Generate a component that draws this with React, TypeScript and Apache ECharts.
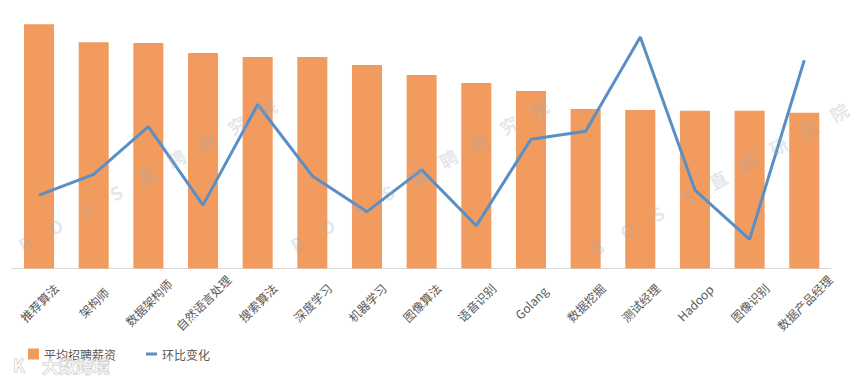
import React, { useEffect, useRef } from "react";
import * as echarts from "echarts";

const categories = [
  "推荐算法", "架构师", "数据架构师", "自然语言处理", "搜索算法", "深度学习", "机器学习",
  "图像算法", "语音识别", "Golang", "数据挖掘", "测试经理", "Hadoop", "图像识别", "数据产品经理",
];
// 平均招聘薪资 (k)
const salary = [27.2, 25.2, 25.1, 24.0, 23.55, 23.55, 22.65, 21.55, 20.65, 19.75, 17.75, 17.65, 17.55, 17.55, 17.35];
// 环比变化 (%)
const change = [7.3, 9.35, 14.1, 6.3, 16.3, 9.2, 5.65, 9.8, 4.25, 12.85, 13.65, 23.0, 7.8, 2.9, 20.7];

const seriesNames = ["平均招聘薪资", "环比变化"];
const watermarkChars = ["B", "O", "S", "S", "直", "聘", "研", "究", "院"];
const logoText = "大数跨境";

const FONT = "'Noto Sans CJK SC', 'Noto Sans', sans-serif";

export default function App() {
  const ref = useRef<HTMLDivElement>(null);
  useEffect(() => {
    if (!ref.current) return;
    const chart = echarts.init(ref.current, undefined, { renderer: "svg" });

    const wmStarts = [
      [25, 243],
      [297, 243],
      [597, 247],
    ];
    const step = [30.25, -16.9];
    const angle = Math.atan2(-step[1], step[0]);
    const wm: any[] = [];
    wmStarts.forEach(([sx, sy]) => {
      watermarkChars.forEach((ch, i) => {
        wm.push({
          type: "text",
          x: sx + step[0] * i,
          y: sy + step[1] * i,
          rotation: angle,
          z: 100,
          silent: true,
          style: {
            text: ch,
            fill: "rgba(160,170,185,0.3)",
            font: `bold 18px ${FONT}`,
            align: "center",
            verticalAlign: "middle",
          },
        });
      });
    });
    wm.push({
      type: "text",
      x: 42,
      y: 365,
      z: 100,
      silent: true,
      style: {
        text: logoText,
        fill: "rgba(255,255,255,0.55)",
        stroke: "rgba(185,185,185,0.75)",
        lineWidth: 1,
        font: `bold 17px ${FONT}`,
        verticalAlign: "middle",
      },
    });
    wm.push({
      type: "text",
      x: 13,
      y: 364,
      z: 100,
      silent: true,
      style: {
        text: "K",
        fill: "rgba(255,255,255,0.55)",
        stroke: "rgba(185,185,185,0.75)",
        lineWidth: 1,
        font: `bold 17px ${FONT}`,
        verticalAlign: "middle",
      },
    });

    chart.setOption({
      animation: false,
      backgroundColor: "#ffffff",
      grid: { left: 11.7, right: 28.4, top: 17, bottom: 112.5 },
      legend: {
        left: 23,
        top: 343,
        itemWidth: 11,
        itemHeight: 11,
        itemGap: 30,
        textStyle: { color: "#595959", fontSize: 12, fontFamily: FONT },
        data: [
          { name: seriesNames[0], icon: "rect" },
          { name: seriesNames[1], icon: "path://M0,0 L11,0 L11,3 L0,3 Z" },
        ],
      },
      xAxis: {
        type: "category",
        data: categories,
        axisLine: { show: true, lineStyle: { color: "#d4d4d4", type: "dotted", width: 1 } },
        axisTick: { show: false },
        axisLabel: {
          interval: 0,
          rotate: 45,
          margin: 34,
          align: "center",
          verticalAlign: "middle",
          color: "#595959",
          fontSize: 12,
          fontFamily: FONT,
        },
      },
      yAxis: [
        { type: "value", min: 0, max: 28, show: false, splitLine: { show: false } },
        { type: "value", min: 0, max: 25, show: false, splitLine: { show: false } },
      ],
      series: [
        {
          name: seriesNames[0],
          type: "bar",
          data: salary,
          barWidth: "55%",
          itemStyle: { color: "#F19C5E" },
        },
        {
          name: seriesNames[1],
          type: "line",
          yAxisIndex: 1,
          data: change,
          symbol: "none",
          lineStyle: { color: "#5A8FC6", width: 3 },
          itemStyle: { color: "#5A8FC6" },
        },
      ],
      graphic: wm,
    });
    return () => chart.dispose();
  }, []);
  return <div ref={ref} style={{ position: "fixed", left: 0, top: 0, width: 860, height: 381 }} />;
}
